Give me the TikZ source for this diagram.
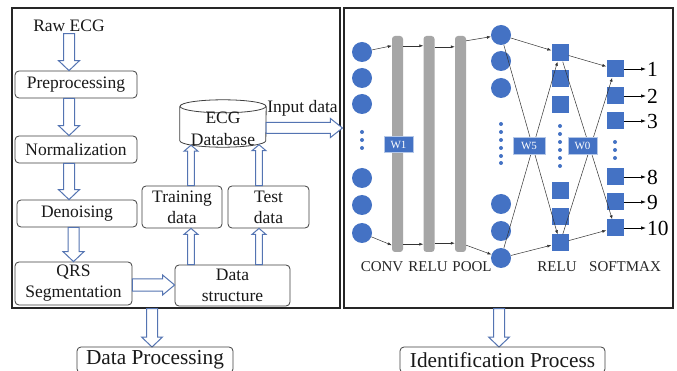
\documentclass[tikz,border=0pt]{standalone}
\usepackage{fontspec}
\setmainfont{Liberation Serif}
\usetikzlibrary{arrows.meta,calc}
\definecolor{ablue}{RGB}{84,116,178}
\definecolor{nblue}{RGB}{68,114,196}
\definecolor{bgray}{RGB}{166,166,166}
\definecolor{lgray}{RGB}{64,64,64}
% hollow block arrow: from, to, shaft half width, head half width, head length
\newcommand\blockarrow[5]{%
  \path[harrow] let \p1=#1, \p2=#2, \n1={atan2(\y2-\y1,\x2-\x1)}, \n2={veclen(\x2-\x1,\y2-\y1)} in
  [shift={(\p1)}, rotate=\n1]
  (0,#3) -- ({\n2-#5},#3) -- ({\n2-#5},#4) -- ({\n2},0) -- ({\n2-#5},-#4) -- ({\n2-#5},-#3) -- (0,-#3) -- cycle;}
\begin{document}
\begin{tikzpicture}[x=1pt,y=-1pt,
  txt/.style={font=\fontsize{17.5}{21}\selectfont, text=black!90, inner sep=0pt},
  box/.style={draw=lgray, line width=0.8pt, rounded corners=4pt, inner sep=0pt, align=center, font=\fontsize{17.5}{21}\selectfont, text=black!90},
  bigbox/.style={box, font=\fontsize{21.3}{25}\selectfont},
  panel/.style={draw=black!85, line width=1.1pt, inner sep=0pt, minimum height=300pt},
  harrow/.style={draw=ablue, line width=1pt, fill=white, line join=miter},
  dbline/.style={draw=lgray, line width=0.8pt},
  neuron/.style={circle, fill=nblue, minimum size=20pt, inner sep=0pt},
  unitsq/.style={rectangle, fill=nblue, minimum size=17pt, inner sep=0pt},
  barnode/.style={rectangle, rounded corners=3pt, fill=bgray, minimum width=11pt, minimum height=216pt, inner sep=0pt},
  wlab/.style={fill=nblue, draw=white!60!nblue, line width=0.5pt, text=white, font=\fontsize{11}{12}\selectfont, minimum width=29pt, minimum height=16.5pt, inner sep=0pt},
  conn/.style={draw=black!80, line width=0.5pt, -{Latex[length=4pt,width=3pt]}},
  outconn/.style={draw=black, line width=0.7pt, -{Latex[length=5pt,width=3.5pt]}},
  ndot/.style={circle, fill=nblue, minimum size=4pt, inner sep=0pt},
  lab/.style={font=\fontsize{15}{18}\selectfont, text=black!85, inner sep=0pt},
  outn/.style={font=\fontsize{21.5}{24}\selectfont, text=black, anchor=west, inner sep=1pt}
]
\useasboundingbox (0,0) rectangle (677,371);
\clip (0,0) rectangle (677,371);
\fill[white] (0,0) rectangle (677,371);

% panels
\node[panel, minimum width=328pt] (lp) at (176,158) {};
\node[panel, minimum width=329pt] (rp) at (508.5,158) {};

% ---------- left panel ----------
\node[txt] (raw) at (69,25.5) {Raw ECG};
\node[box, minimum width=122pt, minimum height=27pt] (pre) at (76,84.5) {Preprocessing};
\node[box, minimum width=122pt, minimum height=27pt] (norm) at (76,149.5) {Normalization};
\node[box, minimum width=120pt, minimum height=27pt] (den) at (77,213.5) {Denoising};
\node[box, minimum width=117pt, minimum height=43pt] (qrs) at (73.5,283.5) {QRS\\Segmentation};
\node[box, minimum width=115pt, minimum height=41pt] (ds) at (232.5,285.5) {Data\\structure};
\node[box, minimum width=80pt, minimum height=42pt] (train) at (182,207) {Training\\data};
\node[box, minimum width=81pt, minimum height=42pt] (test) at (268.5,207) {Test\\data};

% database cylinder
\node[minimum width=86pt, minimum height=47pt, inner sep=0pt] (db) at (223,123.5) {};
\draw[dbline, fill=white] ($(db.north west)+(0,6.5)$) -- ($(db.south west)+(0,-6.5)$)
  arc[start angle=180, end angle=360, x radius=43pt, y radius=6.5pt] -- ($(db.north east)+(0,6.5)$);
\draw[dbline] ($(db.north)+(0,6.5)$) ellipse [x radius=43pt, y radius=6.5pt];
\node[txt, align=center, font=\fontsize{17.5}{22}\selectfont] (dbt) at (223,128.5) {ECG\\Database};
\node[txt] (inp) at (302.5,108) {Input data};

% coordinates for arrows
\coordinate (r0) at ($(raw.south)+(0,2)$);
\coordinate (q0) at ($(qrs.east)+(0,1.5)$);
\coordinate (ta) at ($(train.south)+(9,0)$);
\coordinate (tb) at ($(test.south)+(-9.5,0)$);
\coordinate (tc) at ($(train.north)+(9,0)$);
\coordinate (td) at ($(test.north)+(-9.5,0)$);
\coordinate (dbo) at ($(db.east)+(0,4.5)$);
\coordinate (lpo) at ($(lp.south)+(-24,0)$);
\coordinate (rpo) at ($(rp.south)+(-9.5,0)$);

\blockarrow{(r0)}{(r0 |- pre.north)}{5.5}{10.5}{10}
\blockarrow{(pre.south -| r0)}{(norm.north -| r0)}{5.5}{10.5}{10}
\blockarrow{(norm.south -| r0)}{(den.north -| r0)}{5.5}{10.5}{10}
\blockarrow{(den.south -| qrs.north)}{(qrs.north)}{5.5}{10.5}{10}
\blockarrow{(q0)}{(q0 -| ds.west)}{6}{10}{12}
\blockarrow{(ta |- ds.north)}{(ta)}{3.3}{7}{6}
\blockarrow{(tb |- ds.north)}{(tb)}{3.3}{7}{6}
\blockarrow{(tc)}{($(tc |- db.south)+(0,-2)$)}{3.3}{7}{6}
\blockarrow{(td)}{($(td |- db.south)+(0,-2.5)$)}{3.3}{7}{6}
\blockarrow{(dbo)}{($(dbo -| rp.west)+(-1,0)$)}{5.5}{9.5}{12}
\blockarrow{(lpo)}{(lpo |- 0,347)}{5.5}{10.5}{10}
\blockarrow{(rpo)}{(rpo |- 0,347)}{5.5}{10.5}{10}

\node[bigbox, minimum width=156pt, minimum height=26pt] (dp) at (155,360) {Data Processing};
\node[bigbox, minimum width=205pt, minimum height=26pt] (ip) at (502.5,360) {Identification Process};

% ---------- right panel ----------
\foreach \yy [count=\i] in {52,78,104,178,205,233} \node[neuron] (ca\i) at (362,\yy) {};
\foreach \yy [count=\i] in {35,61,88,204,231,258} \node[neuron] (cb\i) at (501,\yy) {};
\foreach \yy [count=\i] in {53,79,105,191,217,243} \node[unitsq] (sa\i) at (560,\yy) {};
\foreach \yy [count=\i] in {69,96,121,177,202,228} \node[unitsq] (sb\i) at (615,\yy) {};
\foreach \yy [count=\i] in {132,140,148} \node[ndot] (da\i) at (362,\yy) {};
\foreach \yy [count=\i] in {124,132,140,148,156,163} \node[ndot] (db\i) at (501,\yy) {};
\foreach \yy [count=\i] in {126,134,142,150,158,166} \node[ndot] (dc\i) at (560,\yy) {};
\foreach \yy [count=\i] in {142,150,158} \node[ndot] (dd\i) at (615,\yy) {};

\node[barnode] (b1) at (397.5,144) {};
\node[barnode] (b2) at (429,144) {};
\node[barnode] (b3) at (460.5,144) {};

% chains
\draw[conn] (ca1) -- ($(b1.north west)+(0,10)$);
\draw[conn] ($(b1.north east)+(0,10)$) -- ($(b2.north west)+(0,10)$);
\draw[conn] ($(b2.north east)+(0,11)$) -- ($(b3.north west)+(0,11)$);
\draw[conn] ($(b3.north east)+(0,5)$) -- (cb1);
\draw[conn] (ca6) -- ($(b1.south west)+(0,-7)$);
\draw[conn] ($(b1.south east)+(0,-8)$) -- ($(b2.south west)+(0,-8)$);
\draw[conn] ($(b2.south east)+(0,-9)$) -- ($(b3.south west)+(0,-9)$);
\draw[conn] ($(b3.south east)+(0,-7)$) -- (cb6);

\draw[conn] (cb1) -- (sa1);
\draw[conn] (cb1) -- (sa6);
\draw[conn] (cb6) -- (sa1);
\draw[conn] (cb6) -- (sa6);
\draw[conn] (sa1) -- (sb1);
\draw[conn] (sa1) -- (sb6);
\draw[conn] (sa6) -- (sb1);
\draw[conn] (sa6) -- (sb6);

\node[wlab] (w1) at (398.5,144.5) {W1};
\node[wlab, minimum width=32pt] (w5) at (529,146) {W5};
\node[wlab] (w0) at (582.5,146) {W0};

% outputs
\foreach \k/\t in {1/1,2/2,3/3,4/8,5/9,6/10} {
  \node[outn] (o\k) at ($(sb\k.center)+(31,0)$) {\t};
  \draw[outconn] (sb\k.east) -- (o\k.west);
}

% layer labels
\node[lab] (lconv) at (382,267) {CONV};
\node[lab] (lrelu) at (428,267) {RELU};
\node[lab] (lpool) at (472,267) {POOL};
\node[lab] (lrelub) at (557,267) {RELU};
\node[lab] (lsoft) at (625,267) {SOFTMAX};
\end{tikzpicture}
\end{document}
